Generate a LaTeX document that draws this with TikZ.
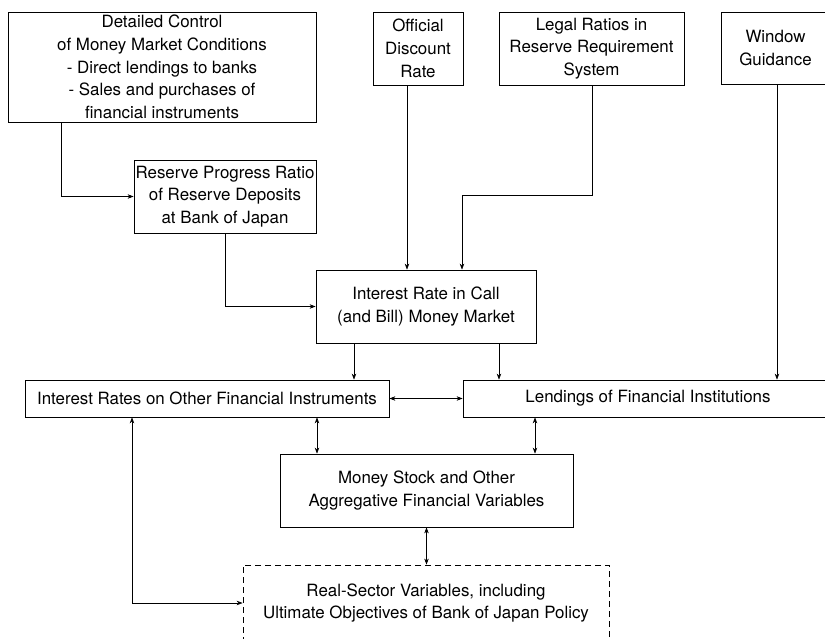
\documentclass[tikz,border=0pt]{standalone}
\usepackage{fontspec}
\setmainfont{TeX Gyre Heros}
\usetikzlibrary{arrows.meta}
\begin{document}
\begin{tikzpicture}[x=1pt,y=-1pt,
  box/.style={draw,line width=0.8pt,rectangle,inner sep=0pt,align=center,
    font=\fontsize{16.9}{22.8}\selectfont},
  dbox/.style={box,dash pattern=on 6pt off 4pt},
  arr/.style={line width=0.6pt,-{Stealth[length=6pt,width=4.5pt]}},
  darr/.style={line width=0.6pt,{Stealth[length=6pt,width=4.5pt]}-{Stealth[length=6pt,width=4.5pt]}}]
\useasboundingbox (0,0) rectangle (825,638);
\clip (0,0) rectangle (825,638);
\node[box,minimum width=308pt,minimum height=110pt] (dc) at (162,67)
  {Detailed Control\\of Money Market Conditions\\- Direct lendings to banks\\- Sales and purchases of\\financial instruments};
\node[box,minimum width=182pt,minimum height=73pt] (rp) at (225,196.5)
  {Reserve Progress Ratio\\of Reserve Deposits\\at Bank of Japan};
\node[box,minimum width=90pt,minimum height=73pt] (odr) at (418,48.5)
  {Official\\Discount\\Rate};
\node[box,minimum width=185pt,minimum height=73pt] (lr) at (591.5,48.5)
  {Legal Ratios in\\Reserve Requirement\\System};
\node[box,minimum width=109pt,minimum height=72pt] (wg) at (775.5,48)
  {Window\\Guidance};
\node[box,minimum width=220pt,minimum height=73pt] (ir) at (426,306.5)
  {Interest Rate in Call\\(and Bill) Money Market};
\node[box,minimum width=364pt,minimum height=37pt] (iro) at (207,398.5)
  {Interest Rates on Other Financial Instruments};
\node[box,minimum width=370pt,minimum height=37pt] (lend) at (648,398.5)
  {Lendings of Financial Institutions};
\node[box,minimum width=293pt,minimum height=73pt] (ms) at (426.5,490.5)
  {Money Stock and Other\\Aggregative Financial Variables};
\node[dbox,minimum width=366pt,minimum height=76pt] (rs) at (426,603)
  {Real-Sector Variables, including\\Ultimate Objectives of Bank of Japan Policy};
% connectors
\draw[arr] ([xshift=-101pt]dc.south) |- (rp.west);
\draw[arr] ([xshift=-11pt]odr.south) -- ([xshift=-11pt]odr.south |- ir.north);
\draw[arr] ([xshift=0.5pt]lr.south) -- ++(0,110) -| ([xshift=36pt]ir.north);
\draw[arr] ([xshift=1.5pt]wg.south) -- ([xshift=1.5pt]wg.south |- lend.north);
\draw[arr] (rp.south) |- (ir.west);
\draw[arr] ([xshift=-72pt]ir.south) -- ([xshift=-72pt]ir.south |- iro.north);
\draw[arr] ([xshift=73pt]ir.south) -- ([xshift=73pt]ir.south |- lend.north);
\draw[darr] (iro.east) -- (lend.west);
\draw[darr] ([xshift=-109.5pt]ms.north |- iro.south) -- ([xshift=-109.5pt]ms.north);
\draw[darr] ([xshift=108.5pt]ms.north |- lend.south) -- ([xshift=108.5pt]ms.north);
\draw[darr] (ms.south) -- (ms.south |- rs.north);
\draw[darr] ([xshift=-75pt]iro.south) |- (rs.west);
\end{tikzpicture}
\end{document}
